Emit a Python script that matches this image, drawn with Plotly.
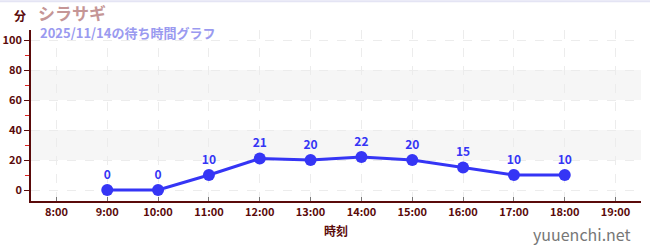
import plotly.graph_objects as go

hours = [9, 10, 11, 12, 13, 14, 15, 16, 17, 18]
waits = [0, 0, 10, 21, 20, 22, 20, 15, 10, 10]
tick_vals = list(range(8, 20))
tick_text = [f"{h}:00" for h in tick_vals]
title_text = "シラサギ"
subtitle_text = "2025/11/14の待ち時間グラフ"
y_unit = "分"
x_title = "時刻"
watermark = "yuuenchi.net"
bands = [(20, 40), (60, 80)]

FONT = "Noto Sans CJK JP"
MAROON = "#5a0a0a"
BLUE = "#3535f5"

fig = go.Figure()
fig.add_trace(go.Scatter(
    x=hours, y=waits, mode="lines+markers+text",
    text=[str(v) for v in waits], textposition="top center",
    textfont=dict(family=FONT, size=12, color=BLUE, weight="bold"),
    line=dict(color=BLUE, width=3),
    marker=dict(color=BLUE, size=12),
    cliponaxis=False, showlegend=False, hoverinfo="skip",
))

shapes = []
for lo, hi in bands:
    shapes.append(dict(type="rect", xref="paper", yref="y", x0=0, x1=1, y0=lo, y1=hi,
                       fillcolor="#f6f6f6", line=dict(width=0), layer="below"))
shapes.append(dict(type="line", xref="paper", yref="paper", x0=-0.06, x1=1.02, y0=1.168, y1=1.168,
                   line=dict(color="#e4e4f4", width=2)))
fig.update_layout(
    width=650, height=250,
    margin=dict(l=31, r=9, t=30, b=49),
    paper_bgcolor="white", plot_bgcolor="white",
    shapes=shapes,
    xaxis=dict(
        range=[7.5, 19.5], tickvals=tick_vals, ticktext=tick_text,
        ticks="inside", ticklen=4, tickcolor="#777", tickwidth=1,
        tickfont=dict(family=FONT, size=11, color=MAROON, weight="bold"),
        showline=True, linecolor=MAROON, linewidth=1.5,
        showgrid=True, gridcolor="#ececec", griddash="dash", gridwidth=1,
        zeroline=False, fixedrange=True, automargin=False,
    ),
    yaxis=dict(
        range=[-7.3, 106.7], tickvals=[0, 20, 40, 60, 80, 100],
        ticks="outside", ticklen=5, tickcolor=MAROON, tickwidth=1,
        tickfont=dict(family=FONT, size=11, color=MAROON, weight="bold"),
        showline=True, linecolor=MAROON, linewidth=1.5,
        showgrid=True, gridcolor="#ececec", griddash="dash", gridwidth=1,
        zeroline=False, fixedrange=True, automargin=False,
        minor=dict(tickvals=[10, 30, 50, 70, 90], ticks="outside", ticklen=4, tickcolor="#dd2222", showgrid=False),
    ),
    annotations=[
        dict(text=title_text, xref="paper", yref="paper", x=0.009, y=1.1, xanchor="left", yanchor="middle",
             showarrow=False, font=dict(family=FONT, size=17, color="#c59696", weight="bold")),
        dict(text=y_unit, xref="paper", yref="paper", x=-0.018, y=1.082, xanchor="center", yanchor="middle",
             showarrow=False, font=dict(family=FONT, size=12, color=MAROON, weight="bold")),
        dict(text=subtitle_text, xref="paper", yref="paper", x=0.011, y=0.985, xanchor="left", yanchor="middle",
             showarrow=False, font=dict(family=FONT, size=13, color="#9a9af0", weight="bold")),
        dict(text=x_title, xref="paper", yref="paper", x=0.5, y=-0.175, xanchor="center", yanchor="middle",
             showarrow=False, font=dict(family=FONT, size=12, color=MAROON, weight="bold")),
        dict(text=watermark, xref="paper", yref="paper", x=0.987, y=-0.193, xanchor="right", yanchor="middle",
             showarrow=False, font=dict(family=FONT, size=16, color="#777777")),
    ],
)
fig.write_html("out.html")
